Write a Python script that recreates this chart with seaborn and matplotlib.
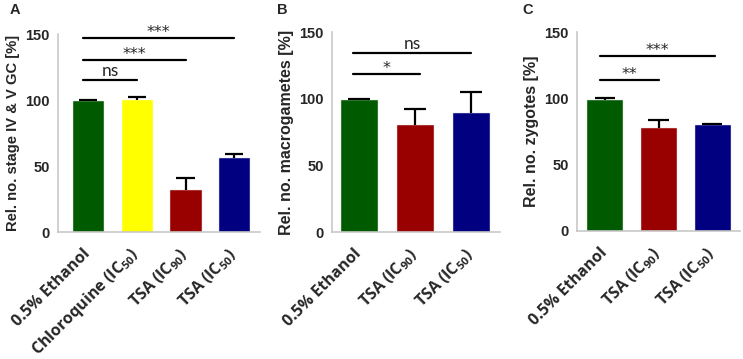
import matplotlib

matplotlib.use("Agg")

import matplotlib.pyplot as plt
import numpy as np
import pandas as pd
import seaborn as sns

# panel A
cats_a = ["0.5% Ethanol", "Chloroquine (IC$_{50}$)", "TSA (IC$_{90}$)", "TSA (IC$_{50}$)"]
vals_a = [99, 100, 32, 56]
err_a = [1, 2, 9, 3]
cols_a = ["#005a00", "#ffff00", "#990000", "#000080"]
brackets_a = [(0, 1, 115, "ns"), (0, 2, 130, "***"), (0, 3, 147, "***")]

# panel B
cats_b = ["0.5% Ethanol", "TSA (IC$_{90}$)", "TSA (IC$_{50}$)"]
vals_b = [99, 80, 89]
err_b = [1, 12, 16]
cols_b = ["#005a00", "#990000", "#000080"]
brackets_b = [(0, 1.1, 118.5, "*"), (0, 2, 134, "ns")]

# panel C
cats_c = ["0.5% Ethanol", "TSA (IC$_{90}$)", "TSA (IC$_{50}$)"]
vals_c = [99, 78, 80]
err_c = [1, 6, 0.5]
cols_c = ["#005a00", "#990000", "#000080"]
brackets_c = [(0, 1, 114, "**"), (0, 2.05, 132, "***")]

ylabels = [
    "Rel. no. stage IV & V GC [%]",
    "Rel. no. macrogametes [%]",
    "Rel. no. zygotes [%]",
]

sns.set_style("white")
plt.rcParams["font.family"] = ["Liberation Sans", "DejaVu Sans"]
plt.rcParams["mathtext.fontset"] = "custom"
plt.rcParams["mathtext.rm"] = "Open Sans:bold"
plt.rcParams["mathtext.it"] = "Open Sans:bold"
plt.rcParams["mathtext.bf"] = "Open Sans:bold"

W, H = 743, 359
fig = plt.figure(figsize=(W / 100, H / 100), dpi=100)

# axes boxes in pixels: left, right, top, bottom
boxes = [(58, 260, 34, 232), (332, 500, 32, 232), (577, 740, 32, 231)]
xlims = [(-0.62, 3.53), (-0.48, 2.52), (-0.52, 2.52)]
widths = [0.62, 0.63, 0.65]
ylab_size = [10.6, 11.5, 11.5]
letters = [("A", 10, 10), ("B", 277, 10), ("C", 522, 10)]

panels = [
    (cats_a, vals_a, err_a, cols_a, brackets_a),
    (cats_b, vals_b, err_b, cols_b, brackets_b),
    (cats_c, vals_c, err_c, cols_c, brackets_c),
]

spine_col = "#c8c8c8"

for i, (cats, vals, errs, cols, brackets) in enumerate(panels):
    l, r, t, b = boxes[i]
    ax = fig.add_axes([l / W, 1 - b / H, (r - l) / W, (b - t) / H])
    df = pd.DataFrame({"group": cats, "value": vals})
    sns.barplot(
        data=df,
        x="group",
        y="value",
        hue="group",
        palette=cols,
        saturation=1,
        legend=False,
        errorbar=None,
        width=widths[i],
        linewidth=0.8,
        ax=ax,
    )
    for p, c in zip(ax.patches, cols):
        p.set_edgecolor(matplotlib.colors.to_rgba(c, 0.6))
        p.set_zorder(2)

    # one-sided (upper) error bars
    xs = np.arange(len(vals))
    tops = np.array(vals) + np.array(errs)
    ax.vlines(xs, vals, tops, color="black", lw=1.6, zorder=1)
    ax.hlines(tops, xs - 0.19, xs + 0.19, color="black", lw=1.6, zorder=1)

    for x0, x1, y, txt in brackets:
        ax.plot([x0 - 0.1, x1], [y, y], color="black", lw=1.6, clip_on=False)
        xm = (x0 - 0.1 + x1) / 2
        if txt == "ns":
            ax.text(xm, y + 3, txt, ha="center", va="baseline",
                    fontsize=12.5, family="Lato", clip_on=False)
        else:
            ax.text(xm, y + 0.8, txt, ha="center", va="baseline",
                    fontsize=11.5, family="DejaVu Sans", clip_on=False)

    ax.set_ylim(0, 150)
    ax.set_xlim(*xlims[i])
    ax.set_yticks([0, 50, 100, 150])
    ax.set_xlabel("")
    ax.set_ylabel(ylabels[i], fontsize=ylab_size[i], fontweight="bold", labelpad=4)
    for s in ["top", "right"]:
        ax.spines[s].set_visible(False)
    for s in ["left", "bottom"]:
        ax.spines[s].set_color(spine_col)
        ax.spines[s].set_linewidth(1.2)
    ax.tick_params(axis="both", which="both", direction="out", length=4,
                   width=1.2, color=spine_col)
    ax.tick_params(axis="y", labelsize=10.5, pad=2)
    ax.tick_params(axis="x", pad=10)
    for lab in ax.get_yticklabels():
        lab.set_fontweight("bold")
    ax.set_xticks(range(len(cats)))
    ax.set_xticklabels(cats, rotation=45, ha="right", va="center",
                       rotation_mode="anchor", fontsize=11.5,
                       family="Open Sans", fontweight="bold")

    name, lx, ly = letters[i]
    fig.text(lx / W, 1 - ly / H, name, fontsize=10.5, fontweight="bold",
             ha="left", va="center")

fig.savefig("out.png", dpi=100)
